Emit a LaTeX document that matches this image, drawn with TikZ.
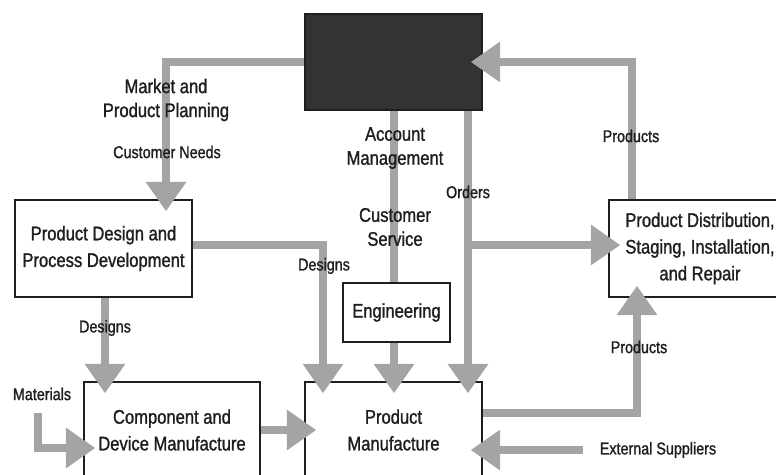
\documentclass[tikz,border=0pt]{standalone}
\usepackage{fontspec}
\setmainfont{Liberation Sans}[FakeStretch=0.84, FakeBold=1.2]
\usepackage{xcolor}
\definecolor{flowgray}{HTML}{a4a4a4}
\definecolor{boxdark}{HTML}{333333}
\definecolor{inkgray}{HTML}{1e1e1e}
\usepackage{tikz}
\usetikzlibrary{positioning, arrows.meta}

\begin{document}
\begin{tikzpicture}[
  x=0.75pt, y=-0.75pt,
  box/.style={draw=inkgray, line width=1.1pt, fill=white, align=center, inner sep=0pt,
              text=inkgray, font=\fontsize{14.8pt}{20pt}\selectfont},
  darkbox/.style={box, fill=boxdark},
  flowline/.style={draw=flowgray, line width=5.5pt},
  flow/.style={flowline, -{Triangle[width=29pt, length=22pt]}, shorten >=-9pt},
  lab/.style={align=center, inner sep=0pt, text=inkgray, font=\fontsize{14.8pt}{18pt}\selectfont},
  smalllab/.style={inner sep=0pt, text=inkgray, font=\fontsize{12.8pt}{15pt}\selectfont}
]
\useasboundingbox (0,0) rectangle (776,475);
\clip (0,0) rectangle (776,475);

% boxes
\node[darkbox, minimum width=132.75pt, minimum height=72pt] (dark) at (393.5,62) {};
\node[box, minimum width=132.75pt, minimum height=72.75pt] (design) at (103.5,248.5)
  {Product Design and\\Process Development};
\node[box, minimum width=80.25pt, minimum height=44.25pt] (eng) at (396.5,312.5) {Engineering};
\node[box, minimum width=136.5pt, minimum height=72.75pt] (dist) at (700,248.5)
  {Product Distribution,\\Staging, Installation,\\and Repair};
\node[box, minimum width=132pt, minimum height=72pt] (comp) at (172,430)
  {Component and\\Device Manufacture};
\node[box, minimum width=132.75pt, minimum height=72pt] (manuf) at (393.5,430)
  {Product\\Manufacture};

% bends and free ends
\coordinate (mktbend) at (166,62);
\coordinate (acct) at (394,0);
\coordinate (ord) at (468,245);
\coordinate (dsgn) at (323,245);
\coordinate (prodtop) at (632,62);
\coordinate (dsgndown) at (105,0);
\coordinate (matl) at (38,413);
\coordinate (matlbend) at (38,448);
\coordinate (prodbend) at (637,413);
\coordinate (ext) at (583,450);

% flows
\draw[flow] (dark.west |- mktbend) -| (design.north -| mktbend);
\draw[flowline] (dark.south -| acct) -- (eng.north -| acct);
\draw[flow] (eng.south -| acct) -- (manuf.north -| acct);
\draw[flow] (dark.south -| ord) -- (manuf.north -| ord);
\draw[flow] (ord) -- (dist.west |- ord);
\draw[flow] (design.east |- dsgn) -| (manuf.north -| dsgn);
\draw[flow] (dist.north -| prodtop) |- (dark.east |- prodtop);
\draw[flow] (design.south -| dsgndown) -- (comp.north -| dsgndown);
\draw[flow] (matl) -- (matlbend) -- (comp.west |- matlbend);
\draw[flow] (comp.east) -- (manuf.west);
\draw[flow] (manuf.east |- prodbend) -| (dist.south -| prodbend);
\draw[flow] (ext) -- (manuf.east |- ext);

% labels
\node[lab] (mktlab) at (166,100) {Market and\\Product Planning};
\node[smalllab] (needs) at (167,152) {Customer Needs};
\node[lab] (acctlab) at (395,148) {Account\\Management};
\node[lab] (servlab) at (395,227) {Customer\\Service};
\node[smalllab] (ordlab) at (468,192) {Orders};
\node[smalllab] (prodlab) at (631,136) {Products};
\node[smalllab] (dsgnlab) at (324,266) {Designs};
\node[smalllab] (dsgnlab2) at (105,328) {Designs};
\node[smalllab] (matlab) at (42,394) {Materials};
\node[smalllab] (prodlab2) at (639,347) {Products};
\node[smalllab] (extlab) at (658,450) {External Suppliers};
\end{tikzpicture}
\end{document}
